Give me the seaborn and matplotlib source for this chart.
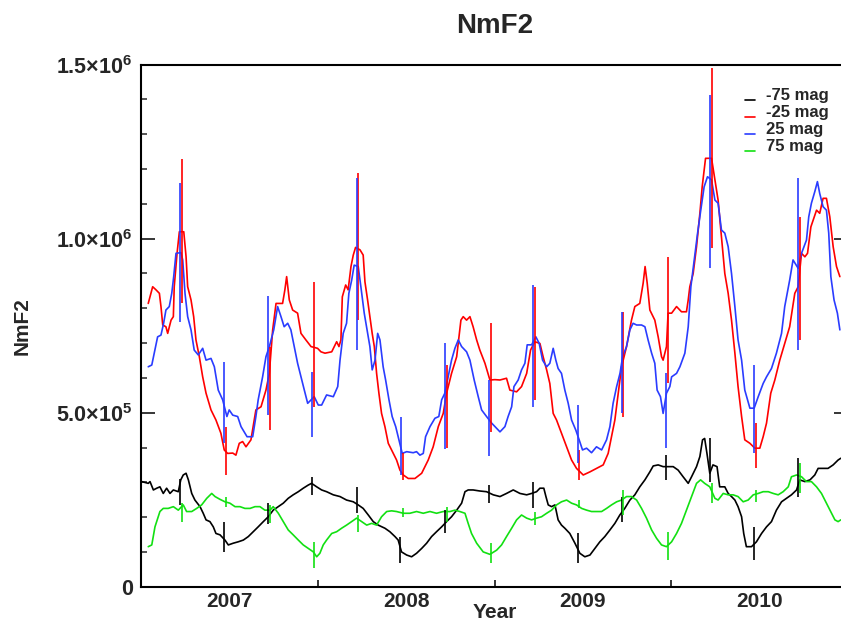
import numpy as np
import pandas as pd
import matplotlib
matplotlib.use("Agg")
import matplotlib.pyplot as plt
from matplotlib.lines import Line2D
from matplotlib.legend_handler import HandlerLine2D
from matplotlib.ticker import FixedLocator, FuncFormatter, MultipleLocator
import seaborn as sns

# ---------------- data ----------------
series_names = ["-75 mag", "-25 mag", "25 mag", "75 mag"]
series_colors = ["#000000", "#ff0000", "#2a3cff", "#12e012"]
year_start = 2007.0          # times below are years since 2007-01-01
unit = 1e5                   # NmF2 values below are in units of 1e5

# -75 mag
t_m75 = [0.004,0.041,0.051,0.070,0.089,0.107,0.126,0.145,0.164,0.183,
         0.211,0.225,0.239,0.255,0.268,0.287,0.305,0.334,0.352,0.368,
         0.390,0.409,0.424,0.447,0.475,0.494,0.522,0.550,0.579,0.607,
         0.635,0.663,0.692,0.720,0.748,0.777,0.805,0.833,0.861,0.890,
         0.918,0.946,0.965,0.994,1.022,1.050,1.088,1.126,1.163,1.201,
         1.229,1.257,1.286,1.314,1.342,1.380,1.408,1.437,1.455,1.474,
         1.503,1.531,1.559,1.588,1.616,1.644,1.672,1.701,1.729,1.757,
         1.786,1.814,1.833,1.851,1.879,1.917,1.955,1.993,2.031,2.068,
         2.106,2.144,2.182,2.210,2.238,2.257,2.279,2.291,2.304,2.323,
         2.342,2.360,2.379,2.398,2.426,2.455,2.483,2.511,2.540,2.568,
         2.596,2.624,2.653,2.681,2.709,2.737,2.766,2.794,2.822,2.851,
         2.879,2.898,2.926,2.954,2.982,3.011,3.039,3.067,3.096,3.115,
         3.143,3.162,3.177,3.189,3.202,3.218,3.236,3.259,3.274,3.303,
         3.322,3.341,3.360,3.378,3.398,3.410,3.425,3.454,3.482,3.511,
         3.539,3.567,3.595,3.624,3.652,3.680,3.709,3.727,3.756,3.785,
         3.812,3.831,3.859,3.887,3.916,3.944,3.959]
v_m75 = [3.02,2.97,3.02,2.78,2.83,2.87,2.68,2.83,2.68,2.78,
         2.73,3.07,3.21,3.26,3.07,2.68,2.49,2.3,2.11,1.92,
         1.87,1.72,1.53,1.49,1.34,1.2,1.25,1.29,1.34,1.44,
         1.58,1.72,1.87,2.01,2.2,2.3,2.4,2.54,2.64,2.73,
         2.83,2.92,2.97,2.87,2.78,2.73,2.64,2.59,2.49,2.44,
         2.35,2.25,2.06,1.87,1.77,1.68,1.58,1.44,1.34,1.0,
         0.91,0.86,0.96,1.1,1.25,1.44,1.58,1.72,1.87,2.01,
         2.2,2.4,2.73,2.78,2.78,2.75,2.73,2.64,2.59,2.68,
         2.78,2.68,2.64,2.68,2.73,2.83,2.83,2.59,2.35,2.3,
         2.35,1.92,1.77,1.68,1.53,1.25,0.96,0.86,0.91,1.1,
         1.29,1.44,1.63,1.82,2.06,2.25,2.49,2.64,2.87,3.07,
         3.3,3.47,3.5,3.45,3.45,3.45,3.35,3.16,2.97,3.16,
         3.45,3.74,4.22,4.26,3.83,3.26,3.5,3.45,2.87,2.87,
         2.68,2.59,2.49,2.3,2.01,1.53,1.15,1.15,1.29,1.53,
         1.72,1.87,2.2,2.44,2.54,2.64,2.78,3.07,3.02,3.07,
         3.21,3.4,3.4,3.4,3.5,3.64,3.69]

# -25 mag
t_m25 = [0.041,0.066,0.085,0.104,0.113,0.123,0.141,0.151,0.170,0.183,
         0.188,0.204,0.217,0.242,0.255,0.264,0.283,0.298,0.311,0.330,
         0.349,0.368,0.396,0.424,0.452,0.471,0.490,0.519,0.537,0.556,
         0.575,0.594,0.622,0.650,0.679,0.707,0.726,0.745,0.764,0.801,
         0.814,0.824,0.839,0.858,0.886,0.905,0.933,0.962,0.999,1.018,
         1.041,1.079,1.107,1.120,1.131,1.139,1.158,1.172,1.188,1.201,
         1.214,1.239,1.257,1.267,1.282,1.295,1.308,1.320,1.333,1.346,
         1.361,1.380,1.399,1.427,1.446,1.465,1.484,1.512,1.550,1.588,
         1.625,1.653,1.682,1.710,1.729,1.757,1.786,1.810,1.823,1.842,
         1.861,1.879,1.899,1.917,1.946,1.974,2.002,2.031,2.068,2.087,
         2.125,2.153,2.182,2.204,2.228,2.257,2.275,2.295,2.313,2.332,
         2.351,2.379,2.408,2.436,2.464,2.502,2.540,2.577,2.615,2.643,
         2.662,2.681,2.700,2.719,2.747,2.775,2.794,2.822,2.841,2.852,
         2.864,2.879,2.907,2.926,2.945,2.954,2.973,2.982,3.002,3.030,
         3.058,3.086,3.096,3.105,3.124,3.143,3.162,3.175,3.194,3.228,
         3.247,3.265,3.284,3.303,3.322,3.341,3.360,3.378,3.398,3.416,
         3.445,3.473,3.501,3.520,3.539,3.563,3.586,3.614,3.642,3.670,
         3.699,3.718,3.737,3.756,3.771,3.790,3.822,3.840,3.859,3.878,
         3.897,3.916,3.935,3.954]
v_m25 = [8.14,8.62,8.53,8.43,8.05,7.52,7.47,7.28,7.66,7.76,
         8.62,9.58,10.2,10.2,9.48,8.62,8.24,7.76,7.09,6.61,
         6.03,5.56,5.08,4.79,4.41,3.93,3.83,3.84,3.78,4.12,
         4.17,4.02,4.22,5.08,5.17,5.65,6.13,7.38,8.14,8.14,
         8.53,8.91,8.24,7.95,7.86,7.28,7.09,6.9,6.85,6.75,
         6.71,6.75,7.04,6.9,7.09,8.33,8.67,8.53,9.2,9.53,
         9.75,9.68,9.53,8.76,8.24,7.76,7.28,6.9,6.13,5.56,
         4.98,4.6,4.12,3.83,3.64,3.35,3.21,3.11,3.11,3.26,
         3.64,4.02,4.6,4.98,5.56,6.13,6.61,7.66,7.76,7.66,
         7.76,7.47,7.09,6.8,6.42,5.94,5.95,5.94,5.99,5.65,
         5.6,5.75,6.13,6.8,7.04,6.99,6.61,6.23,5.84,4.98,
         4.79,4.41,4.02,3.64,3.4,3.21,3.3,3.4,3.5,3.83,
         4.31,4.79,5.56,6.32,6.9,7.66,8.05,8.14,8.72,9.2,
         8.72,7.95,7.66,7.18,6.61,6.51,6.9,7.86,7.86,8.05,
         7.9,7.9,8.24,8.62,9.0,9.77,10.73,11.49,12.31,12.31,
         11.69,11.11,10.06,9.0,8.43,7.66,6.71,5.75,4.89,4.22,
         4.12,3.98,3.98,4.31,4.7,5.56,5.94,6.51,6.99,7.47,
         8.43,8.62,9.58,9.48,9.58,10.34,10.82,10.73,11.16,11.16,
         10.63,9.77,9.2,8.91]

# 25 mag
t_p25 = [0.041,0.061,0.075,0.094,0.113,0.128,0.141,0.160,0.174,0.185,
         0.198,0.226,0.236,0.249,0.264,0.283,0.301,0.324,0.349,0.368,
         0.396,0.415,0.437,0.462,0.486,0.499,0.519,0.547,0.566,0.600,
         0.632,0.650,0.663,0.688,0.707,0.726,0.751,0.773,0.792,0.810,
         0.830,0.848,0.871,0.886,0.905,0.924,0.943,0.980,1.003,1.022,
         1.050,1.088,1.113,1.126,1.144,1.163,1.176,1.192,1.206,1.229,
         1.244,1.263,1.282,1.295,1.308,1.324,1.339,1.352,1.370,1.384,
         1.403,1.421,1.441,1.459,1.478,1.503,1.540,1.559,1.578,1.597,
         1.610,1.635,1.663,1.685,1.701,1.719,1.738,1.757,1.776,1.795,
         1.814,1.842,1.861,1.885,1.908,1.927,1.955,1.984,2.012,2.031,
         2.059,2.077,2.097,2.110,2.134,2.153,2.172,2.185,2.210,2.234,
         2.253,2.272,2.295,2.313,2.332,2.347,2.360,2.379,2.398,2.417,
         2.436,2.460,2.479,2.498,2.521,2.549,2.577,2.606,2.634,2.653,
         2.671,2.691,2.710,2.725,2.747,2.766,2.784,2.804,2.832,2.851,
         2.869,2.889,2.907,2.920,2.939,2.954,2.973,2.992,3.002,3.030,
         3.049,3.077,3.096,3.111,3.130,3.149,3.167,3.186,3.205,3.228,
         3.247,3.265,3.284,3.303,3.322,3.341,3.360,3.378,3.398,3.416,
         3.445,3.469,3.492,3.520,3.539,3.567,3.595,3.624,3.642,3.670,
         3.689,3.718,3.737,3.765,3.778,3.793,3.812,3.827,3.840,3.859,
         3.878,3.891,3.903,3.921,3.940,3.954]
v_p25 = [6.32,6.37,6.71,7.18,7.23,7.57,7.95,8.05,8.43,8.91,
         9.58,9.6,9.39,8.43,7.76,7.38,6.8,6.66,6.85,6.51,
         6.56,6.32,5.65,5.37,4.89,5.08,4.93,4.89,4.6,4.31,
         4.31,4.89,5.37,6.03,6.61,6.9,7.38,8.05,7.76,7.47,
         7.57,7.38,6.8,6.42,6.03,5.65,5.27,5.46,5.22,5.22,
         5.51,5.46,5.75,6.51,7.28,7.57,8.43,8.81,9.24,9.2,
         8.62,7.86,7.28,6.9,6.23,6.51,7.28,7.09,6.32,5.94,
         5.37,4.89,4.6,4.22,3.83,3.88,3.85,3.88,3.78,3.83,
         4.31,4.6,4.84,4.89,5.37,5.56,6.03,6.51,6.85,7.09,
         6.9,6.75,6.51,5.94,5.46,5.08,4.89,4.7,4.55,4.45,
         4.6,4.89,5.17,5.75,5.94,6.23,6.42,6.95,6.95,7.18,
         6.99,6.51,6.32,6.42,6.85,6.51,6.27,6.13,5.65,5.27,
         4.79,4.5,4.22,3.93,3.98,3.85,4.02,3.93,4.22,4.6,
         5.27,5.75,6.13,6.61,6.9,7.38,7.57,7.52,7.52,7.47,
         7.09,6.71,6.42,5.65,5.46,4.98,5.56,5.75,6.03,6.13,
         6.32,6.71,7.47,8.62,9.39,10.16,10.82,11.49,11.78,11.69,
         11.11,11.02,10.25,10.16,9.77,9.0,8.05,7.09,6.51,5.65,
         5.13,5.13,5.46,5.84,6.03,6.27,6.71,7.28,8.05,8.81,
         9.39,9.15,9.58,9.96,10.63,11.02,11.35,11.64,11.3,10.92,
         10.82,10.16,8.91,8.24,7.86,7.38]

# 75 mag
t_p75 = [0.041,0.061,0.079,0.107,0.126,0.154,0.183,0.211,0.239,0.258,
         0.287,0.315,0.343,0.372,0.400,0.419,0.447,0.475,0.503,0.532,
         0.560,0.588,0.617,0.645,0.673,0.701,0.730,0.748,0.777,0.805,
         0.833,0.861,0.890,0.918,0.946,0.975,0.994,1.012,1.031,1.050,
         1.079,1.107,1.135,1.163,1.192,1.220,1.248,1.277,1.305,1.333,
         1.361,1.390,1.418,1.446,1.484,1.521,1.559,1.597,1.635,1.672,
         1.710,1.748,1.776,1.804,1.833,1.851,1.870,1.899,1.936,1.974,
         2.012,2.040,2.068,2.097,2.125,2.153,2.182,2.210,2.238,2.266,
         2.295,2.323,2.351,2.379,2.408,2.436,2.464,2.493,2.521,2.549,
         2.577,2.606,2.634,2.662,2.691,2.719,2.747,2.775,2.804,2.832,
         2.860,2.889,2.917,2.945,2.973,3.002,3.030,3.058,3.086,3.115,
         3.143,3.166,3.189,3.218,3.247,3.265,3.294,3.322,3.350,3.378,
         3.407,3.435,3.464,3.492,3.520,3.549,3.577,3.605,3.633,3.662,
         3.680,3.709,3.737,3.765,3.793,3.822,3.850,3.878,3.907,3.926,
         3.944,3.959]
v_p75 = [1.15,1.2,1.72,2.16,2.25,2.25,2.3,2.2,2.35,2.16,
         2.16,2.25,2.35,2.54,2.68,2.59,2.51,2.44,2.4,2.3,
         2.3,2.25,2.25,2.3,2.3,2.2,2.2,2.3,2.11,1.87,
         1.63,1.49,1.34,1.2,1.1,1.0,0.86,0.96,1.2,1.34,
         1.53,1.58,1.68,1.77,1.87,1.97,1.87,1.77,1.82,1.77,
         2.01,2.16,2.18,2.16,2.11,2.11,2.16,2.11,2.16,2.11,
         2.16,2.16,2.2,2.16,2.11,1.82,1.53,1.25,1.0,0.93,
         1.05,1.2,1.44,1.68,1.92,2.06,1.97,1.92,1.97,2.01,
         2.11,2.2,2.35,2.44,2.49,2.4,2.35,2.25,2.2,2.16,
         2.16,2.16,2.25,2.35,2.44,2.49,2.59,2.59,2.49,2.25,
         1.97,1.63,1.39,1.2,1.15,1.29,1.53,1.82,2.2,2.59,
         2.97,3.07,2.97,2.87,2.54,2.49,2.68,2.64,2.64,2.59,
         2.44,2.49,2.64,2.68,2.73,2.73,2.68,2.64,2.73,2.87,
         3.16,3.21,3.16,3.02,3.02,2.87,2.68,2.4,2.11,1.92,
         1.87,1.92]

# vertical spikes (time, top, bottom) for each series
spk_t_m75 = [0.223,0.471,0.720,0.965,1.220,1.468,1.719,1.968,2.219,2.470,2.719,2.968,3.218,3.467,3.718]
spk_hi_m75 = [3.1,1.87,2.4,3.16,2.87,1.44,2.2,2.92,3.02,1.53,2.59,3.78,4.26,1.72,3.69]
spk_lo_m75 = [2.35,1.0,1.8,2.64,2.11,0.67,1.53,2.4,2.25,0.67,1.87,3.07,3.02,0.77,2.59]

spk_t_m25 = [0.232,0.481,0.730,0.977,1.230,1.480,1.729,1.980,2.230,2.479,2.728,2.979,3.230,3.478,3.727]
spk_hi_m25 = [12.3,4.6,6.9,8.76,11.88,3.84,6.37,7.57,8.62,3.93,7.9,9.48,14.9,4.7,10.63]
spk_lo_m25 = [8.14,3.21,4.5,5.17,7.66,3.07,3.98,4.45,5.37,3.07,4.89,5.84,9.72,3.4,7.09]

spk_t_p25 = [0.222,0.471,0.717,0.969,1.220,1.471,1.719,1.968,2.219,2.470,2.720,2.968,3.218,3.467,3.718]
spk_hi_p25 = [11.59,6.47,8.35,6.18,11.73,4.89,6.99,5.94,8.67,5.22,7.9,6.13,14.13,6.37,11.73]
spk_lo_p25 = [7.61,4.12,4.93,4.31,6.8,3.21,3.95,3.76,5.17,3.55,4.98,3.98,9.15,3.83,6.8]

spk_t_p75 = [0.234,0.481,0.730,0.980,1.229,1.480,1.729,1.978,2.228,2.479,2.728,2.979,3.228,3.478,3.727]
spk_hi_p75 = [2.4,2.59,2.35,1.29,2.06,2.25,2.3,1.25,2.16,2.5,2.78,1.58,2.97,2.78,3.55]
spk_lo_p75 = [1.87,2.3,1.82,0.53,1.58,2.0,1.87,0.67,1.77,2.25,2.06,0.77,2.4,2.44,2.68]

y_ticks = [0, 5e5, 1e6, 1.5e6]
year_labels = ["2007", "2008", "2009", "2010"]

# ---------------- build table ----------------
line_t = [t_m75, t_m25, t_p25, t_p75]
line_v = [v_m75, v_m25, v_p25, v_p75]
frames = []
for name, tt, vv in zip(series_names, line_t, line_v):
    frames.append(pd.DataFrame({"year": year_start + np.array(tt),
                                "nmf2": np.array(vv) * unit,
                                "series": name}))
df = pd.concat(frames, ignore_index=True)

spikes = [(spk_t_m75, spk_hi_m75, spk_lo_m75), (spk_t_m25, spk_hi_m25, spk_lo_m25),
          (spk_t_p25, spk_hi_p25, spk_lo_p25), (spk_t_p75, spk_hi_p75, spk_lo_p75)]

# ---------------- style ----------------
sns.set_style("white")
plt.rcParams["font.family"] = ["Liberation Sans", "DejaVu Sans"]
plt.rcParams["font.weight"] = "bold"
plt.rcParams["mathtext.fontset"] = "custom"
plt.rcParams["mathtext.rm"] = "Liberation Sans:bold"
plt.rcParams["mathtext.bf"] = "Liberation Sans:bold"
plt.rcParams["mathtext.it"] = "Liberation Sans:bold"
text_color = "#262626"

fig = plt.figure(figsize=(8.41, 6.24), dpi=100)
ax = fig.add_axes([141 / 841, 37.3 / 624, 707 / 841, 522 / 624])

lw = 1.2
sns.lineplot(data=df, x="year", y="nmf2", hue="series", hue_order=series_names,
             palette=series_colors, estimator=None, sort=False, linewidth=lw,
             legend=False, ax=ax)
for (st, hi, lo), c in zip(spikes, series_colors):
    ax.vlines(year_start + np.array(st), np.array(lo) * unit, np.array(hi) * unit,
              colors=c, linewidth=lw)

ax.set_xlim(2007, 2011)
ax.set_ylim(0, 1.5e6)

# y axis
def yfmt(v, pos):
    if v == 0:
        return "0"
    e = int(np.floor(np.log10(v)))
    m = v / 10 ** e
    return r"$\mathbf{%.1f{\times}10^{%d}}$" % (m, e)

ax.yaxis.set_major_locator(FixedLocator(y_ticks))
ax.yaxis.set_major_formatter(FuncFormatter(yfmt))
ax.yaxis.set_minor_locator(MultipleLocator(1e5))
ax.tick_params(axis="y", which="major", direction="in", length=10, width=1.3,
               left=True, right=True, labelsize=15.5, labelcolor=text_color, pad=6)
ax.tick_params(axis="y", which="minor", direction="in", length=4.5, width=1.1,
               left=True, right=True)

# x axis: ticks at year boundaries, labels centred within each year
ax.xaxis.set_major_locator(FixedLocator([2008, 2009, 2010]))
ax.xaxis.set_major_formatter(FuncFormatter(lambda v, p: ""))
ax.xaxis.set_minor_locator(FixedLocator([2007.5, 2008.5, 2009.5, 2010.5]))
ax.xaxis.set_minor_formatter(FuncFormatter(lambda v, p: year_labels[p] if p < len(year_labels) else ""))
ax.tick_params(axis="x", which="major", direction="in", length=5, width=1.3,
               bottom=True, top=False)
ax.tick_params(axis="x", which="minor", length=0, labelsize=15,
               labelcolor=text_color, pad=4)

for s in ax.spines.values():
    s.set_color("black")
    s.set_linewidth(1.5)

ax.set_xlabel("Year", fontsize=15, fontweight="bold", color=text_color)
ax.xaxis.set_label_coords(0.5, -0.031)
ax.set_ylabel("NmF2", fontsize=15, fontweight="bold", color=text_color)
ax.yaxis.set_label_coords(-0.155, 0.5)
ax.set_title("NmF2", fontsize=20, fontweight="bold", color=text_color, pad=23)


class BaselineLine(HandlerLine2D):
    """Legend line drawn near the text baseline (IDL style)."""
    def create_artists(self, legend, orig_handle, xdescent, ydescent,
                       width, height, fontsize, trans):
        arts = super().create_artists(legend, orig_handle, xdescent, ydescent,
                                      width, height, fontsize, trans)
        for a in arts:
            if isinstance(a, Line2D):
                a.set_ydata(np.asarray(a.get_ydata()) - 0.5 * height)
        return arts


handles = [Line2D([], [], color=c, linewidth=lw) for c in series_colors]
fig.legend(handles, series_names, loc="upper left",
           bbox_to_anchor=(745 / 841, 1 - 88 / 624), frameon=False,
           handlelength=0.6, handletextpad=0.65, labelspacing=0.12,
           borderpad=0, borderaxespad=0,
           handler_map={Line2D: BaselineLine()},
           prop={"weight": "bold", "size": 12}, labelcolor=text_color)

fig.savefig("out.png", dpi=100)
